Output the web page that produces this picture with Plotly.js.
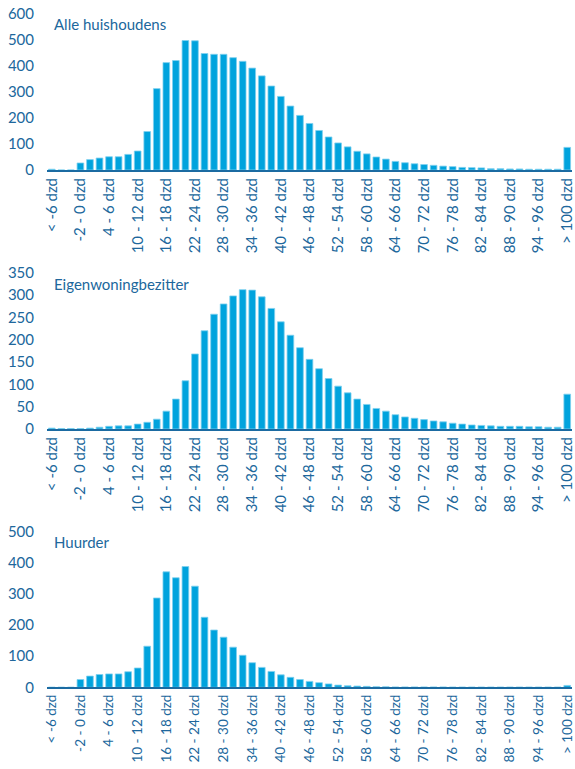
<!DOCTYPE html>
<html>
<head>
<meta charset="utf-8">
<script src="https://cdn.plot.ly/plotly-3.0.1.min.js"></script>
<style>html,body{margin:0;padding:0;background:#fff;}#chart{width:575px;height:769px;}</style>
</head>
<body>
<div id="chart"></div>
<script>
var categories = ["< -6 dzd","-6 - -4 dzd","-4 - -2 dzd","-2 - 0 dzd","0 - 2 dzd","2 - 4 dzd","4 - 6 dzd","6 - 8 dzd","8 - 10 dzd","10 - 12 dzd","12 - 14 dzd","14 - 16 dzd","16 - 18 dzd","18 - 20 dzd","20 - 22 dzd","22 - 24 dzd","24 - 26 dzd","26 - 28 dzd","28 - 30 dzd","30 - 32 dzd","32 - 34 dzd","34 - 36 dzd","36 - 38 dzd","38 - 40 dzd","40 - 42 dzd","42 - 44 dzd","44 - 46 dzd","46 - 48 dzd","48 - 50 dzd","50 - 52 dzd","52 - 54 dzd","54 - 56 dzd","56 - 58 dzd","58 - 60 dzd","60 - 62 dzd","62 - 64 dzd","64 - 66 dzd","66 - 68 dzd","68 - 70 dzd","70 - 72 dzd","72 - 74 dzd","74 - 76 dzd","76 - 78 dzd","78 - 80 dzd","80 - 82 dzd","82 - 84 dzd","84 - 86 dzd","86 - 88 dzd","88 - 90 dzd","90 - 92 dzd","92 - 94 dzd","94 - 96 dzd","96 - 98 dzd","98 - 100 dzd","> 100 dzd"];

var alleHuishoudens = [3,0,0,27,40,46,51,51,60,73,148,313,413,421,498,497,448,445,445,432,418,392,362,323,283,246,210,179,152,127,104,89,72,62,50,42,33,28,24,21,18,15,13,10,9,8,5,5,4,4,3,3,3,3,87];
var eigenwoningbezitter = [2,1,1,1,2,4,6,7,7,11,15,22,40,67,108,168,220,257,280,298,312,311,296,270,240,210,182,156,135,113,96,81,67,55,46,40,32,27,24,21,18,16,13,11,9,8,7,6,6,6,5,5,4,4,78];
var huurder = [0,0,0,25,36,41,43,43,50,62,132,287,371,352,388,325,225,184,161,129,103,79,64,51,40,32,25,19,15,11,7,5,4,3,2,1.5,1,1,1,1,1,1,0.5,0.5,0.5,0.5,0.5,0.5,0.5,0.5,0.5,0.5,0.5,0.5,6];

var panelTitles = ["Alle huishoudens","Eigenwoningbezitter","Huurder"];
var yRanges = [[0,600],[0,350],[0,500]];
var yTicks = [[0,100,200,300,400,500,600],[0,50,100,150,200,250,300,350],[0,100,200,300,400,500]];

var tickCats = categories.filter(function(c,i){return i % 3 === 0;});

(function(){
var barColor = '#00A3DD';
var edgeColor = '#7FD1EF';
var textColor = '#20679C';
var axisColor = '#1B6BA2';
var FONT = 'Lato, "Liberation Sans", sans-serif';

var series = [alleHuishoudens, eigenwoningbezitter, huurder];
var H = 769;
var pix = [[14,170],[272.7,429],[531.7,687.3]];
var titleY = [24, 284, 542];
var xFontSize = [15, 15, 13.5];

var traces = [];
var layout = {
  width: 575, height: 769,
  margin: {l: 47, r: 3, t: 0, b: 0},
  paper_bgcolor: '#fff', plot_bgcolor: '#fff',
  showlegend: false,
  bargap: 0.3,
  font: {family: FONT, color: textColor, size: 14},
  annotations: []
};

for (var k = 0; k < 3; k++) {
  var sx = k === 0 ? '' : String(k+1);
  traces.push({
    type: 'bar',
    x: categories,
    y: series[k],
    xaxis: 'x' + sx,
    yaxis: 'y' + sx,
    marker: {color: barColor, line: {color: edgeColor, width: 0.8}}
  });
  var dTop = 1 - pix[k][0]/H, dBot = 1 - pix[k][1]/H;
  layout['xaxis' + sx] = {
    type: 'category',
    categoryorder: 'array',
    categoryarray: categories,
    range: [-0.5, categories.length - 0.5],
    anchor: 'y' + sx,
    domain: [0, 1],
    tickmode: 'array',
    tickvals: tickCats,
    ticktext: tickCats,
    tickangle: -90,
    ticks: '',
    showline: true,
    linecolor: axisColor,
    linewidth: 2,
    showgrid: false,
    zeroline: false,
    automargin: false,
    tickfont: {family: FONT, size: xFontSize[k], color: textColor}
  };
  layout['yaxis' + sx] = {
    anchor: 'x' + sx,
    domain: [dBot, dTop],
    range: yRanges[k],
    tickmode: 'array',
    tickvals: yTicks[k],
    ticks: '',
    ticklabelstandoff: 12,
    showline: false,
    showgrid: false,
    zeroline: false,
    automargin: false,
    tickfont: {family: FONT, size: 15, color: textColor}
  };
  layout.annotations.push({
    text: panelTitles[k],
    xref: 'paper', yref: 'paper',
    x: 5/525, y: 1 - titleY[k]/H,
    xanchor: 'left', yanchor: 'middle',
    showarrow: false,
    font: {family: FONT, size: 15, color: textColor}
  });
}

Plotly.newPlot('chart', traces, layout, {displayModeBar: false, staticPlot: true});
})();
</script>
</body>
</html>
